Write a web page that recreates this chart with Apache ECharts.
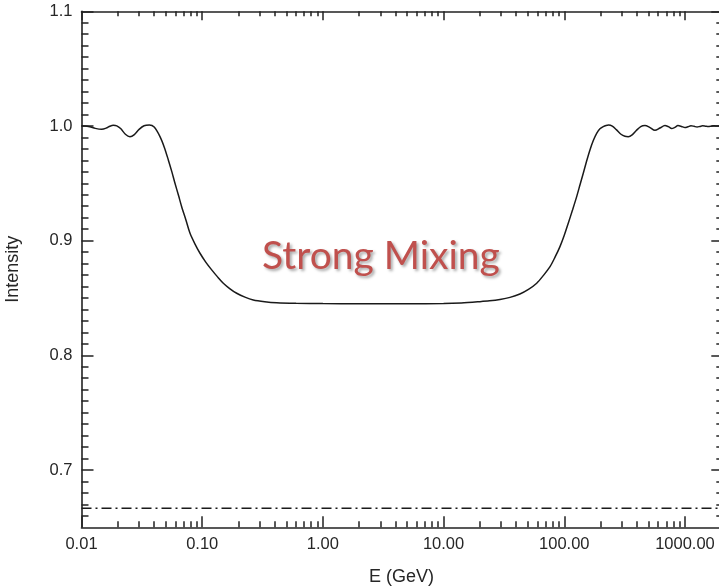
<!DOCTYPE html>
<html><head><meta charset="utf-8">
<script src="https://cdn.jsdelivr.net/npm/echarts@6/dist/echarts.min.js"></script>
<style>html,body{margin:0;padding:0;background:#fff}#c{width:719px;height:586px}</style>
</head><body><div id="c"></div><script>
const energy = [0.0100,0.0107,0.0117,0.0130,0.0147,0.0160,0.0172,0.01835,0.0196,0.0212,0.0231,0.0252,0.0274,0.0300,0.0330,0.0365,0.0400,0.0447,0.0485,0.0524,0.0560,0.0595,0.0635,0.0676,0.0733,0.0793,0.0872,0.0959,0.1070,0.1199,0.1340,0.1496,0.1700,0.1931,0.2260,0.2650,0.3300,0.4140,0.6000,1.0,2.0,5.0,10.0,14.0,20.0,24.0,29.3,35.5,42.9,50.5,59.1,67.0,76.2,84.0,92.1,100.0,107.9,117.0,126.7,135.0,143.7,153.0,163.2,174.0,185.5,197.5,210.4,222.0,233.0,250.0,270.0,295.0,318.0,339.0,365.0,395.0,430.0,466.0,510.0,564.0,620.0,682.0,728.0,776.0,825.0,875.0,935.0,1000.0,1060.0,1120.0,1190.0,1260.0,1330.0,1400.0,1480.0,1560.0,1650.0,1740.0,1850.0,2000.0];
const intensity = [1.0000,1.0000,0.9994,0.9979,0.9971,0.9981,0.9998,1.0006,1.0001,0.9975,0.9928,0.9907,0.9925,0.9970,1.0002,1.0008,0.9990,0.9907,0.9815,0.9704,0.9602,0.9500,0.9398,0.9296,0.9180,0.9064,0.8970,0.8890,0.8813,0.8745,0.8684,0.8629,0.8580,0.8541,0.8507,0.8483,0.8468,0.8459,0.8454,0.8451,0.8450,0.8450,0.8452,0.8457,0.8468,0.8475,0.8487,0.8505,0.8535,0.8575,0.8629,0.8695,0.8773,0.8858,0.8948,0.9047,0.9152,0.9267,0.9384,0.9487,0.9588,0.9692,0.9791,0.9873,0.9936,0.9975,0.9994,1.0004,1.0008,0.9998,0.9968,0.9928,0.9910,0.9907,0.9922,0.9960,0.9995,1.0004,0.9988,0.9962,0.9982,1.0004,0.9994,0.9978,0.9988,1.0003,0.9996,0.9986,0.9993,1.0002,0.9997,0.9991,0.9996,1.0001,0.9998,0.9995,0.9998,1.0001,1.0000,1.0000];
const limitEnergy = [0.01, 2000];
const limitIntensity = [0.6667, 0.6667];
const xMajorTicks = [0.01, 0.1, 1, 10, 100, 1000];
const yMajorTicks = [0.7, 0.8, 0.9, 1.0, 1.1];
const xMinorTicks = [];
for (let d = -2; d <= 3; d++) for (let m = 2; m <= 9; m++) {
  const v = Number((m * Math.pow(10, d)).toPrecision(6));
  if (v <= 2000) xMinorTicks.push(v);
}
const yMinorTicks = [];
for (let k = 66; k <= 109; k++) if (k % 10 !== 0) yMinorTicks.push(k / 100);

const AX = '#222';
const labelFont = {fontFamily: 'Liberation Sans, Arial, sans-serif', fontSize: 16.5, color: '#262626'};
function xAx(pos, ticks, len, showLabel, showLine) {
  return {type: 'log', logBase: 10, min: 0.01, max: 2000, position: pos,
    axisLine: {show: showLine, onZero: false, lineStyle: {color: AX, width: 1.6}},
    axisTick: {show: true, inside: true, length: len, customValues: ticks, lineStyle: {color: AX, width: 1.5}},
    axisLabel: Object.assign({show: showLabel, customValues: ticks, margin: 9,
      formatter: v => Number(v).toFixed(2)}, labelFont),
    splitLine: {show: false}, minorTick: {show: false}, minorSplitLine: {show: false}};
}
function yAx(pos, ticks, len, showLabel, showLine) {
  return {type: 'value', min: 0.65, max: 1.1, position: pos,
    axisLine: {show: showLine, onZero: false, lineStyle: {color: AX, width: 1.6}},
    axisTick: {show: true, inside: true, length: len, customValues: ticks, lineStyle: {color: AX, width: 1.5}},
    axisLabel: Object.assign({show: showLabel, customValues: ticks, margin: 9,
      formatter: v => Number(v).toFixed(1)}, labelFont),
    splitLine: {show: false}, minorTick: {show: false}, minorSplitLine: {show: false}};
}
const xAxes = [xAx('bottom', xMajorTicks, 11, true, true), xAx('bottom', xMinorTicks, 6, false, false),
  xAx('top', xMajorTicks, 9, false, true), xAx('top', xMinorTicks, 5, false, false)];
xAxes[0].name = 'E (GeV)'; xAxes[0].nameLocation = 'middle'; xAxes[0].nameGap = 41;
xAxes[0].nameTextStyle = {fontFamily: 'Liberation Sans, Arial, sans-serif', fontSize: 18, color: '#262626'};
const yAxes = [yAx('left', yMajorTicks, 12, true, true), yAx('left', yMinorTicks, 7, false, false),
  yAx('right', yMajorTicks, 10, false, true), yAx('right', yMinorTicks, 5, false, false)];
yAxes[0].name = 'Intensity'; yAxes[0].nameLocation = 'middle'; yAxes[0].nameGap = 59;
yAxes[0].nameTextStyle = {fontFamily: 'Liberation Sans, Arial, sans-serif', fontSize: 18, color: '#262626'};

const chart = echarts.init(document.getElementById('c'), null, {renderer: 'canvas'});
chart.setOption({
  animation: false,
  backgroundColor: '#fff',
  grid: {left: 81.5, top: 11.3, right: -2.3, bottom: 58.7, containLabel: false, outerBoundsMode: 'none'},
  xAxis: xAxes,
  yAxis: yAxes,
  series: [
    {type: 'line', xAxisIndex: 0, yAxisIndex: 0, showSymbol: false, smooth: 0.3,
     data: energy.map((e, i) => [e, intensity[i]]),
     lineStyle: {color: '#1a1a1a', width: 1.5}, z: 3},
    {type: 'line', xAxisIndex: 0, yAxisIndex: 0, showSymbol: false,
     data: limitEnergy.map((e, i) => [e, limitIntensity[i]]),
     lineStyle: {color: '#1a1a1a', width: 1.5, type: [10, 4, 2, 4]}, z: 3}
  ],
  graphic: [{type: 'text', left: 262, top: 237, z: 10,
    style: {text: 'Strong Mixing', fill: '#C0504D', fontFamily: 'Lato, sans-serif', fontSize: 39,
      textShadowColor: 'rgba(0,0,0,0.35)', textShadowBlur: 3, textShadowOffsetX: 2, textShadowOffsetY: 2}}]
});
</script></body></html>
